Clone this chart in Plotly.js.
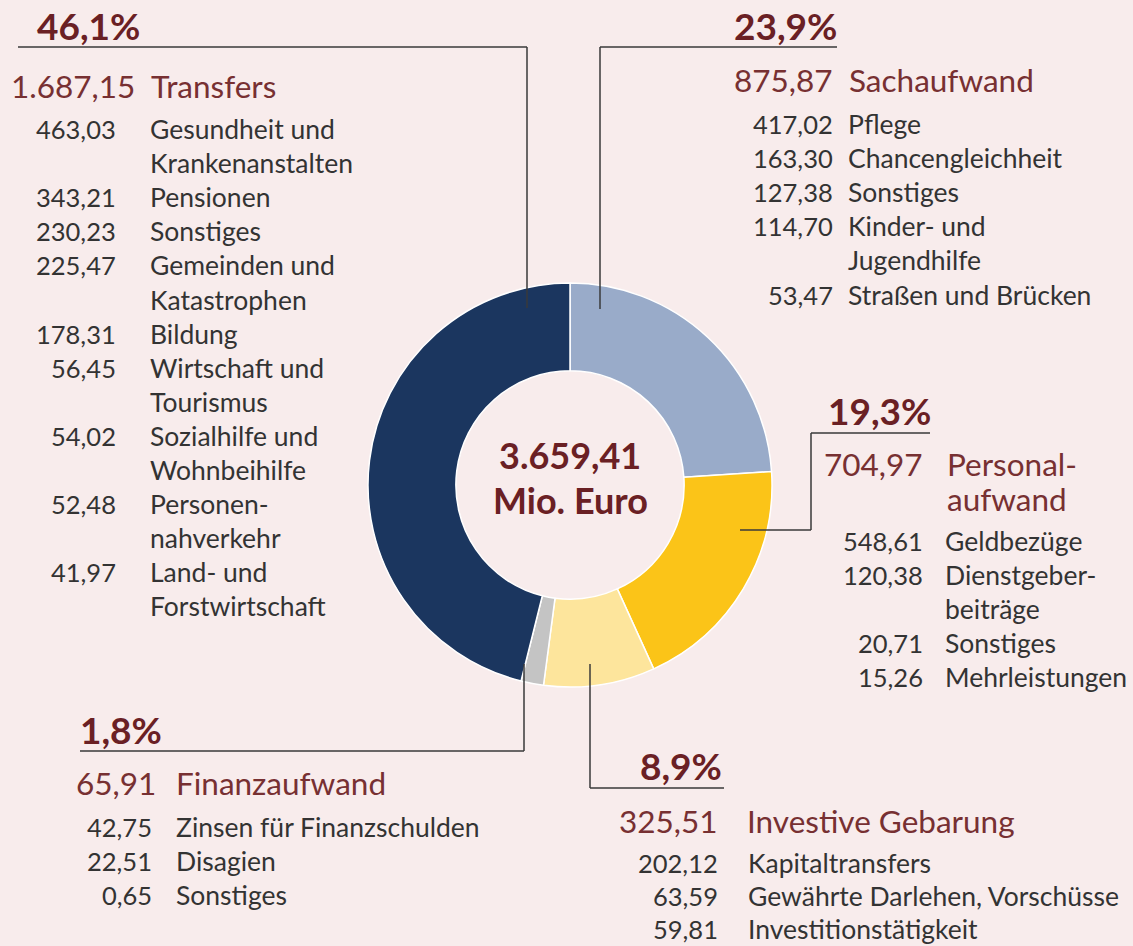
<!DOCTYPE html>
<html>
<head>
<meta charset="utf-8">
<script src="https://cdn.plot.ly/plotly-3.0.1.min.js"></script>
<style>
html,body{margin:0;padding:0;background:#f8ecec;}
#chart{width:1133px;height:946px;}
</style>
</head>
<body>
<div id="chart"></div>
<script>
// ---- DATA ----
const categories = ["Sachaufwand", "Personalaufwand", "Investive Gebarung", "Finanzaufwand", "Transfers"];
const categoryLabels = [["Sachaufwand"], ["Personal-", "aufwand"], ["Investive Gebarung"], ["Finanzaufwand"], ["Transfers"]];
const values = [875.87, 704.97, 325.51, 65.91, 1687.15];
const percentLabels = ["23,9%", "19,3%", "8,9%", "1,8%", "46,1%"];
const total = 3659.41;

const sachValues = [417.02, 163.30, 127.38, 114.70, 53.47];
const sachItems = [["Pflege"], ["Chancengleichheit"], ["Sonstiges"], ["Kinder- und", "Jugendhilfe"], ["Straßen und Brücken"]];
const persValues = [548.61, 120.38, 20.71, 15.26];
const persItems = [["Geldbezüge"], ["Dienstgeber-", "beiträge"], ["Sonstiges"], ["Mehrleistungen"]];
const invValues = [202.12, 63.59, 59.81];
const invItems = [["Kapitaltransfers"], ["Gewährte Darlehen, Vorschüsse"], ["Investitionstätigkeit"]];
const finValues = [42.75, 22.51, 0.65];
const finItems = [["Zinsen für Finanzschulden"], ["Disagien"], ["Sonstiges"]];
const transValues = [463.03, 343.21, 230.23, 225.47, 178.31, 56.45, 54.02, 52.48, 41.97];
const transItems = [["Gesundheit und", "Krankenanstalten"], ["Pensionen"], ["Sonstiges"], ["Gemeinden und", "Katastrophen"], ["Bildung"], ["Wirtschaft und", "Tourismus"], ["Sozialhilfe und", "Wohnbeihilfe"], ["Personen-", "nahverkehr"], ["Land- und", "Forstwirtschaft"]];
const subValues = [sachValues, persValues, invValues, finValues, transValues];
const subItems = [sachItems, persItems, invItems, finItems, transItems];
const sliceColors = ["#99abc9", "#fbc418", "#fde59c", "#c4c4c4", "#1b365f"];

// ---- HELPERS ----
const W = 1133, H = 946;
function fmt(v) {
  const parts = v.toFixed(2).split(".");
  parts[0] = parts[0].replace(/\B(?=(\d{3})+(?!\d))/g, ".");
  return parts[0] + "," + parts[1];
}
const px = x => x / W;
const py = y => 1 - y / H;
const FONT = "Lato, 'Open Sans', sans-serif";
const cPct = "#6a2024", cHead = "#773032", cSub = "#333333";
const SZ_PCT = 37, SZ_HEAD = 31.5, SZ_NUM = 25.5, SZ_LAB = 26.5, SZ_CTR = 36;

// layout positions per category (pixels)
const pos = [
  {pct:{x:837,y:26,a:"right"}, hNum:833, hLab:849, hy:80, sNum:833, sLab:848, sy:124, step:34.1, line:[[600,309],[600,47],[837,47]]},
  {pct:{x:931,y:410,a:"right"}, hNum:923, hLab:947, hy:464, sNum:923, sLab:945, sy:541, step:34.1, line:[[740,530],[811,530],[811,433],[930,433]]},
  {pct:{x:722,y:765,a:"right"}, hNum:718, hLab:747, hy:821, sNum:718, sLab:748, sy:863, step:33, line:[[590,664],[590,788],[724,788]]},
  {pct:{x:80,y:729,a:"left"}, hNum:156, hLab:176, hy:783, sNum:152, sLab:176, sy:827, step:34.1, line:[[524,664],[524,751],[80,751]]},
  {pct:{x:37,y:26,a:"left"}, hNum:135, hLab:151, hy:86, sNum:116, sLab:150, sy:129, step:34.1, line:[[527,308],[527,47],[18,47]]}
];
const HEAD_STEP = 35;

const annotations = [];
const shapes = [];
function ann(text, x, y, anchor, size, color, bold) {
  annotations.push({
    text: bold ? "<b>" + text + "</b>" : text,
    xref: "paper", yref: "paper", x: px(x), y: py(y),
    xanchor: anchor, yanchor: "middle", showarrow: false,
    borderpad: 0, borderwidth: 0,
    font: {family: FONT, size: size, color: color}
  });
}

categories.forEach((c, i) => {
  const p = pos[i];
  ann(percentLabels[i], p.pct.x, p.pct.y, p.pct.a, SZ_PCT, cPct, true);
  ann(fmt(values[i]), p.hNum, p.hy, "right", SZ_HEAD, cHead, false);
  categoryLabels[i].forEach((l, k) => ann(l, p.hLab, p.hy + k * HEAD_STEP, "left", SZ_HEAD, cHead, false));
  let row = 0;
  subValues[i].forEach((v, j) => {
    const y0 = p.sy + row * p.step;
    ann(fmt(v), p.sNum, y0, "right", SZ_NUM, cSub, false);
    subItems[i][j].forEach((l, k) => ann(l, p.sLab, y0 + k * p.step, "left", SZ_LAB, cSub, false));
    row += subItems[i][j].length;
  });
  const pts = p.line;
  for (let k = 0; k < pts.length - 1; k++) {
    shapes.push({type: "line", xref: "paper", yref: "paper",
      x0: px(pts[k][0]), y0: py(pts[k][1]), x1: px(pts[k+1][0]), y1: py(pts[k+1][1]),
      line: {color: "#3a3a3a", width: 1.5}});
  }
});

// centre text
ann(fmt(total), 570, 455, "center", SZ_CTR, cPct, true);
ann("Mio. Euro", 570, 500, "center", SZ_CTR, cPct, true);

const cx = 570, cy = 485, R = 202;
const trace = {
  type: "pie",
  labels: categories,
  values: values,
  sort: false,
  direction: "clockwise",
  rotation: 0,
  hole: 0.565,
  textinfo: "none",
  hoverinfo: "label+value+percent",
  marker: {colors: sliceColors, line: {color: "#ffffff", width: 1.5}},
  domain: {x: [px(cx - R), px(cx + R)], y: [py(cy + R), py(cy - R)]},
  showlegend: false
};

Plotly.newPlot("chart", [trace], {
  width: W, height: H,
  margin: {l: 0, r: 0, t: 0, b: 0},
  paper_bgcolor: "#f8ecec",
  plot_bgcolor: "#f8ecec",
  showlegend: false,
  annotations: annotations,
  shapes: shapes
}, {displayModeBar: false, staticPlot: true});
</script>
</body>
</html>
